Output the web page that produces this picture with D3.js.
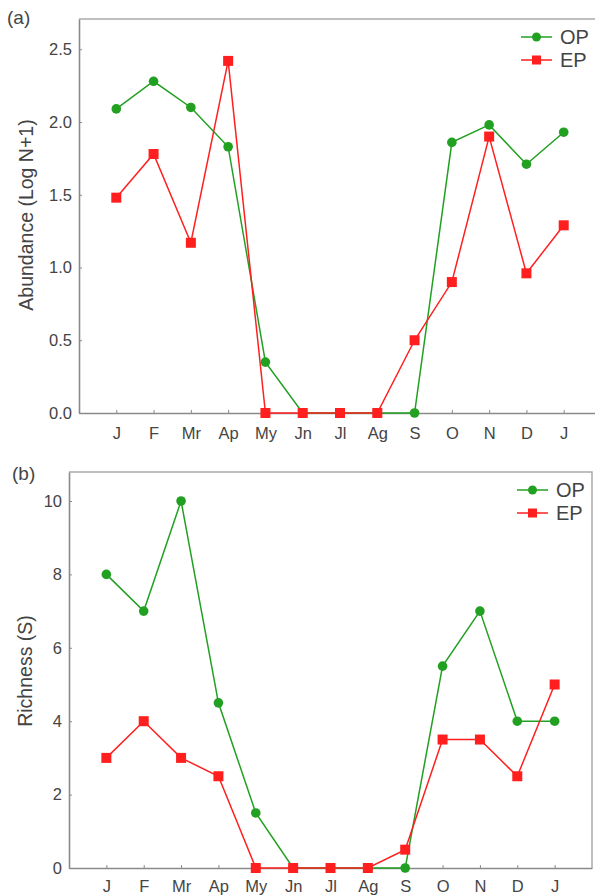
<!DOCTYPE html>
<html>
<head>
<meta charset="utf-8">
<script src="https://cdn.jsdelivr.net/npm/d3@7"></script>
<style>
  body { margin: 0; background: #fff; }
  svg { display: block; font-family: "Liberation Sans", Arial, sans-serif; }
</style>
</head>
<body>
<script>
// months on the x axis (13 points, J repeated at the end)
const months = ['J', 'F', 'Mr', 'Ap', 'My', 'Jn', 'Jl', 'Ag', 'S', 'O', 'N', 'D', 'J'];

// (a) abundance, log N+1
const abundOP = [2.09, 2.28, 2.10, 1.83, 0.35, 0, 0, 0, 0, 1.86, 1.98, 1.71, 1.93];
const abundEP = [1.48, 1.78, 1.17, 2.42, 0, 0, 0, 0, 0.50, 0.90, 1.90, 0.96, 1.29];
const abundTicks = [0, 0.5, 1.0, 1.5, 2.0, 2.5];

// (b) richness
const richOP = [8, 7, 10, 4.5, 1.5, 0, 0, 0, 0, 5.5, 7, 4, 4];
const richEP = [3, 4, 3, 2.5, 0, 0, 0, 0, 0.5, 3.5, 3.5, 2.5, 5];
const richTicks = [0, 2, 4, 6, 8, 10];

const seriesNames = ['OP', 'EP'];

const green = '#22a022';
const red = '#ff1f1f';
const grey = '#8a8a8a';
const textCol = '#444';

const svg = d3.select('body').append('svg')
  .attr('width', 595)
  .attr('height', 896);

function drawPanel(cfg) {
  const g = svg.append('g');

  const x = d3.scaleLinear()
    .domain([-1, months.length])
    .range([cfg.left, cfg.right]);
  const y = d3.scaleLinear()
    .domain(cfg.yDomain)
    .range([cfg.bottom, cfg.top]);

  // frame (top + right), axes drawn separately
  g.append('path')
    .attr('d', `M${cfg.left},${cfg.top}H${cfg.right}V${cfg.bottom}`)
    .attr('fill', 'none')
    .attr('stroke', '#aaa')
    .attr('stroke-width', 1.5);

  const yAxis = g.append('g')
    .attr('transform', `translate(${cfg.left},0)`)
    .call(d3.axisLeft(y).tickValues(cfg.ticks).tickFormat(cfg.fmt).tickSizeInner(-3).tickSizeOuter(0).tickPadding(7));

  const xAxis = g.append('g')
    .attr('transform', `translate(0,${cfg.bottom})`)
    .call(d3.axisBottom(x).tickValues(d3.range(months.length)).tickFormat(i => months[i]).tickSizeInner(-3).tickSizeOuter(0).tickPadding(cfg.xPad));

  [xAxis, yAxis].forEach(ax => {
    ax.select('.domain').attr('stroke', grey).attr('stroke-width', 1.6);
    ax.selectAll('.tick line').attr('stroke', grey);
    ax.selectAll('.tick text').attr('fill', textCol).style('font-size', '16.5px');
  });

  const line = d3.line()
    .x((d, i) => x(i))
    .y(d => y(d));

  // OP
  g.append('path')
    .datum(cfg.op)
    .attr('fill', 'none')
    .attr('stroke', green)
    .attr('stroke-width', 1.5)
    .attr('d', line);
  // EP
  g.append('path')
    .datum(cfg.ep)
    .attr('fill', 'none')
    .attr('stroke', red)
    .attr('stroke-width', 1.5)
    .attr('d', line);

  g.selectAll('.op-dot')
    .data(cfg.op)
    .enter()
    .append('circle')
    .attr('cx', (d, i) => x(i))
    .attr('cy', d => y(d))
    .attr('r', 4.8)
    .attr('fill', green);

  g.selectAll('.ep-sq')
    .data(cfg.ep)
    .enter()
    .append('rect')
    .attr('x', (d, i) => x(i) - 5)
    .attr('y', d => y(d) - 5)
    .attr('width', 10)
    .attr('height', 10)
    .attr('fill', red);

  // legend
  const leg = g.append('g');
  seriesNames.forEach((name, k) => {
    const ly = cfg.legY + k * 23;
    const col = k === 0 ? green : red;
    leg.append('line')
      .attr('x1', cfg.legX).attr('x2', cfg.legX + 31)
      .attr('y1', ly).attr('y2', ly)
      .attr('stroke', col).attr('stroke-width', 1.5);
    if (k === 0) {
      leg.append('circle').attr('cx', cfg.legX + 15.5).attr('cy', ly).attr('r', 4.5).attr('fill', col);
    } else {
      leg.append('rect').attr('x', cfg.legX + 11).attr('y', ly - 4.5).attr('width', 9).attr('height', 9).attr('fill', col);
    }
    leg.append('text')
      .attr('x', cfg.legX + 39)
      .attr('y', ly)
      .attr('dy', '0.35em')
      .attr('fill', textCol)
      .style('font-size', '20px')
      .text(name);
  });

  // panel letter
  g.append('text')
    .attr('x', cfg.letterX)
    .attr('y', cfg.letterY)
    .attr('fill', textCol)
    .style('font-size', '19px')
    .text(cfg.letter);

  // y title (baseline at titleX)
  g.append('text')
    .attr('transform', `translate(${cfg.titleX},${cfg.titleY}) rotate(-90)`)
    .attr('text-anchor', 'middle')
    .attr('fill', textCol)
    .style('font-size', '19.5px')
    .text(cfg.title);
}

drawPanel({
  left: 79, right: 601, top: 19, bottom: 413,
  yDomain: [0, 2.708],
  ticks: abundTicks,
  fmt: d3.format('.1f'),
  op: abundOP, ep: abundEP,
  xPad: 14,
  legX: 521, legY: 37,
  letter: '(a)', letterX: 7, letterY: 24,
  title: 'Abundance (Log N+1)', titleX: 33, titleY: 215
});

drawPanel({
  left: 69, right: 592, top: 472, bottom: 868,
  yDomain: [0, 10.79],
  ticks: richTicks,
  fmt: d3.format('d'),
  op: richOP, ep: richEP,
  xPad: 12,
  legX: 517, legY: 490,
  letter: '(b)', letterX: 12, letterY: 480,
  title: 'Richness (S)', titleX: 32, titleY: 671
});
</script>
</body>
</html>
